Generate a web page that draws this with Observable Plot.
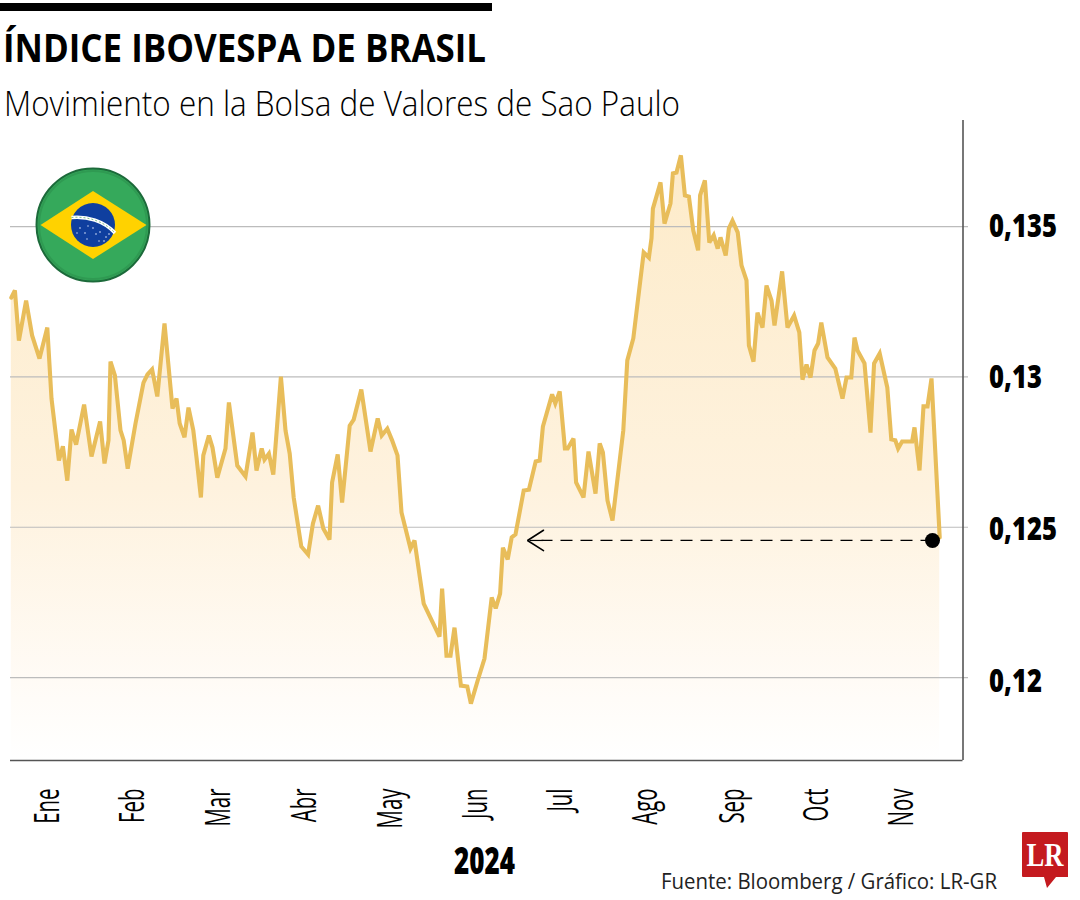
<!DOCTYPE html>
<html lang="es">
<head>
<meta charset="utf-8">
<title>Índice Ibovespa de Brasil</title>
<script src="https://cdn.jsdelivr.net/npm/d3@7"></script>
<script src="https://cdn.jsdelivr.net/npm/@observablehq/plot@0.6"></script>
<style>
  html, body { margin: 0; padding: 0; background: #fff; }
  body { width: 1080px; height: 900px; position: relative; overflow: hidden; color: #000; }
  .abs { position: absolute; white-space: nowrap; transform-origin: 0 0; }
  #bar { left: 0; top: 3px; width: 492px; height: 8px; background: #000; }
  #title { left: 3px; top: 22px; font: 700 39px/50px "Open Sans", sans-serif; }
  #subtitle { left: 4px; top: 80px; font: 300 34px/46px "Open Sans", sans-serif; }
  #chart { left: 0; top: 118px; }
  #flag { left: 30px; top: 162px; }
  #year { left: 454px; top: 837px; font: 800 37px/46px "Open Sans", sans-serif; }
  #source { left: 661px; top: 866px; font: 400 21px/30px "Open Sans", sans-serif; color: #222; }
  #logo { left: 1018px; top: 828px; }
</style>
</head>
<body>
<div class="abs" id="bar"></div>
<div class="abs" id="title" data-w="483">ÍNDICE IBOVESPA DE BRASIL</div>
<div class="abs" id="subtitle" data-w="676">Movimiento en la Bolsa de Valores de Sao Paulo</div>
<div class="abs" id="chart"></div>
<svg class="abs" id="flag" width="126" height="126" viewBox="0 0 126 126">
  <circle cx="63" cy="63" r="56.5" fill="#35a95b" stroke="#1c6a3a" stroke-width="2"/>
  <circle cx="63" cy="63" r="54" fill="none" stroke="#2f9a52" stroke-width="2"/>
  <path d="M10.5 63 63 29 116.5 63 63 97Z" fill="#ffd200"/>
  <circle cx="63" cy="63" r="22" fill="#0f3f9f"/>
  <path d="M41.5 55.5C57 54 74 59 85 71" fill="none" stroke="#fff" stroke-width="3.4"/>
  <path d="M41.5 55.5C57 54 74 59 85 71" fill="none" stroke="#7fbf8a" stroke-width="1" stroke-dasharray="2 2"/>
  <g fill="#dfe8ff">
    <circle cx="50" cy="66" r=".8"/><circle cx="55" cy="71" r=".8"/><circle cx="58" cy="64" r=".7"/>
    <circle cx="63" cy="66" r=".8"/><circle cx="66" cy="72" r=".8"/><circle cx="70" cy="70" r=".8"/>
    <circle cx="76" cy="75" r=".8"/><circle cx="74" cy="79" r=".8"/><circle cx="79" cy="72" r=".8"/>
    <circle cx="57" cy="77" r=".7"/><circle cx="69" cy="79" r=".7"/><circle cx="47" cy="71" r=".7"/>
  </g>
</svg>
<div class="abs" id="year" data-w="61">2024</div>
<div class="abs" id="source" data-w="336">Fuente: Bloomberg / Gráfico: LR-GR</div>
<svg class="abs" id="logo" width="56" height="64" viewBox="0 0 56 64">
  <path d="M5 4H49a1 1 0 0 1 1 1V49H38L29 60 26 49H5a1 1 0 0 1-1-1V5a1 1 0 0 1 1-1Z" fill="#c41a1f"/>
  <text x="27" y="38" text-anchor="middle" font-family="Liberation Serif" font-weight="700" font-size="33" fill="#fff" textLength="37" lengthAdjust="spacingAndGlyphs">LR</text>
</svg>
<script>
// Position along the trading calendar (sessions since the start of January 2024)
const session = [0.2,1.1,2.1,3.9,5.4,7.25,9.2,10.25,12.1,13.1,14.2,15.25,16.4,18.4,20.25,22.4,23.5,24.5,25,26.1,27.5,28.3,29.3,31.25,33.25,34.25,35.4,36.7,38.5,40.5,41.5,42.3,43.5,44.5,45.7,46.5,47.6,48.2,49.6,50.5,51.7,53.75,54.6,56.7,58.75,60.5,61.5,62.8,63.5,64.6,65.7,67.6,68.75,69.8,70.8,72.7,74.4,75.6,76.9,78.2,79.75,80.4,81.8,82.9,84.8,85.8,87.7,90,91.8,92.8,94.2,95.4,96.75,97.75,100,101,103.3,107.25,107.9,109,110,111,112.6,114.2,115.1,116.8,118.5,120.3,121.3,122.4,123.1,124.3,125.3,126.25,128.3,129.6,131.3,132.3,133.1,135.4,136.2,137.3,138.6,139.3,140.75,141.4,143.25,144.5,146.25,147.3,148.1,149.25,150.5,153.2,154.2,155.7,158.3,159.6,160.25,160.6,162.5,163.5,165,165.6,166.5,167.6,168.6,169.6,170.7,171.9,172.4,173.6,174.7,175.8,176.8,177.5,178.8,179.6,180.5,181.8,182.75,184,184.6,185.75,186.75,188,189,190.25,191,192.9,194.25,195.9,197.2,198,199,200,201,201.9,202.7,204.25,206.2,208,209,210.2,211,211.75,213.5,215,215.9,217.3,219.2,220.2,221.2,221.9,222.9,225.4,226,227.25,228.25,229.25,230.25,232.3];
const ibovespa = [0.13264,0.13288,0.13121,0.13254,0.13138,0.13061,0.13164,0.12928,0.12722,0.12769,0.12655,0.12825,0.12775,0.12908,0.12735,0.12852,0.12712,0.12789,0.13051,0.13005,0.12822,0.12789,0.12695,0.12845,0.12981,0.13008,0.13025,0.12935,0.13178,0.12895,0.12928,0.12845,0.12799,0.12898,0.12822,0.12732,0.12599,0.12739,0.12805,0.12765,0.12665,0.12762,0.12915,0.12705,0.12669,0.12815,0.12689,0.12762,0.12725,0.12745,0.12675,0.13001,0.12822,0.12745,0.12599,0.12436,0.12409,0.12512,0.12572,0.12496,0.12459,0.12649,0.12742,0.12582,0.12838,0.12858,0.12958,0.12752,0.12862,0.12805,0.12828,0.12789,0.12739,0.12549,0.12429,0.12456,0.12246,0.12136,0.12296,0.12073,0.12073,0.12166,0.11973,0.1197,0.11913,0.1199,0.12063,0.12266,0.1223,0.12279,0.12432,0.12393,0.12466,0.12476,0.12622,0.12625,0.12719,0.12722,0.12835,0.12942,0.12912,0.12952,0.12762,0.12762,0.12795,0.12649,0.12599,0.12752,0.12612,0.12779,0.12749,0.12589,0.12522,0.12822,0.13055,0.13128,0.13414,0.13397,0.13461,0.1356,0.13647,0.1351,0.13577,0.13677,0.1368,0.13737,0.13604,0.136,0.13487,0.13421,0.13604,0.13654,0.13447,0.13471,0.13427,0.13464,0.13404,0.13494,0.1352,0.13481,0.13371,0.13321,0.13105,0.13051,0.13214,0.13164,0.13304,0.13254,0.13171,0.13351,0.13164,0.13204,0.13148,0.12991,0.13041,0.12998,0.13088,0.13111,0.13181,0.13065,0.13028,0.12928,0.12998,0.12998,0.13131,0.13088,0.13045,0.12815,0.13045,0.13078,0.12965,0.12792,0.12789,0.12762,0.12785,0.12785,0.12832,0.12689,0.12902,0.12902,0.12995,0.12466];
const months = ["Ene","Feb","Mar","Abr","May","Jun","Jul","Ago","Sep","Oct","Nov"];
const monthSessions = [9.5,30.75,52.25,73.75,95.25,116.5,137.75,159,180.75,201.75,223];
const yTicks = [0.12,0.125,0.13,0.135];
const yTickLabels = ["0,12","0,125","0,13","0,135"];
const yTickNudge = [4,3,1,0];
const markerSession = 230.5, markerValue = 0.12456, arrowSession = 129.25, dashEndSession = 132.75;
const arrowWing = 4, arrowSpread = 0.00034;
const xDomain = [0, 238.125], yDomain = [0.11724, 0.13853];

const data = session.map((s, i) => ({s, v: ibovespa[i]}));
const arrowHead = [
  {s: arrowSession + arrowWing, v: markerValue + arrowSpread},
  {s: arrowSession, v: markerValue},
  {s: arrowSession + arrowWing, v: markerValue - arrowSpread}
];
const lineColor = "#e8bd5a", grid = "#bcbcbc", frame = "#555";

const chart = Plot.plot({
  width: 1080, height: 715,
  marginTop: 2, marginBottom: 73, marginLeft: 10, marginRight: 117.5,
  style: {background: "transparent", overflow: "visible"},
  x: {domain: xDomain, axis: null},
  y: {domain: yDomain, axis: null},
  marks: [
    () => d3.create("svg:defs").html(`<linearGradient id="areaFade" x1="0" y1="0" x2="0" y2="1">
        <stop offset="0" stop-color="#fdebc9"/><stop offset=".55" stop-color="#fef2de"/>
        <stop offset=".9" stop-color="#fffcf8"/><stop offset="1" stop-color="#fff"/></linearGradient>`).node(),
    Plot.areaY(data, {x: "s", y1: yDomain[0], y2: "v", fill: "url(#areaFade)"}),
    Plot.ruleY(yTicks, {x1: 0, x2: 239.5, stroke: grid, strokeWidth: 1.2}),
    Plot.ruleX([xDomain[1]], {stroke: frame, strokeWidth: 1.6}),
    Plot.ruleY([yDomain[0]], {stroke: frame, strokeWidth: 1.6}),
    Plot.axisY({anchor: "right", ticks: yTicks, tickFormat: d => yTickLabels[yTicks.indexOf(d)],
      tickSize: 0, tickPadding: 26, label: null}),
    Plot.axisX({anchor: "bottom", ticks: monthSessions, tickFormat: d => months[monthSessions.indexOf(d)],
      tickRotate: -90, tickSize: 0, tickPadding: 28, label: null}),
    Plot.line(data, {x: "s", y: "v", stroke: lineColor, strokeWidth: 4.1, strokeLinejoin: "miter", strokeMiterlimit: 3}),
    Plot.link([0], {x1: markerSession, x2: dashEndSession, y1: markerValue, y2: markerValue,
      stroke: "#000", strokeWidth: 1.2, strokeDasharray: "12 8"}),
    Plot.line(arrowHead, {x: "s", y: "v", stroke: "#000", strokeWidth: 1.6, strokeLinejoin: "miter"}),
    Plot.link([0], {x1: arrowSession + 0.5, x2: arrowSession + arrowWing, y1: markerValue, y2: markerValue,
      stroke: "#000", strokeWidth: 1.2}),
    Plot.dot([0], {x: markerSession, y: markerValue, r: 7.5, fill: "#000"})
  ]
});
document.getElementById("chart").appendChild(chart);

// Type styling: the reference's face is condensed, so each tick label is narrowed about its anchor.
function narrow(label, family, size, weight, sx, nudge) {
  chart.querySelectorAll(`[aria-label="${label}"]`).forEach(g => {
    g.setAttribute("font-family", family); g.setAttribute("font-size", size); g.setAttribute("font-weight", weight);
  });
  chart.querySelectorAll(`[aria-label="${label}"] text`).forEach((n, i) => {
    const dy = nudge ? nudge[i] : 0;
    n.setAttribute("font-family", family); n.setAttribute("font-size", size); n.setAttribute("font-weight", weight);
    n.setAttribute("transform", (n.getAttribute("transform") || "") + ` translate(0,${dy}) scale(${sx},1)`);
  });
}
narrow("y-axis tick label", "Open Sans", 32, 800, 0.8, yTickNudge);
narrow("x-axis tick label", "Open Sans", 34, 400, 0.6);

// Fit headline and source to the reference's measured widths
document.querySelectorAll("[data-w]").forEach(el => {
  el.style.transform = `scaleX(${+el.dataset.w / el.getBoundingClientRect().width})`;
});
</script>
</body>
</html>
